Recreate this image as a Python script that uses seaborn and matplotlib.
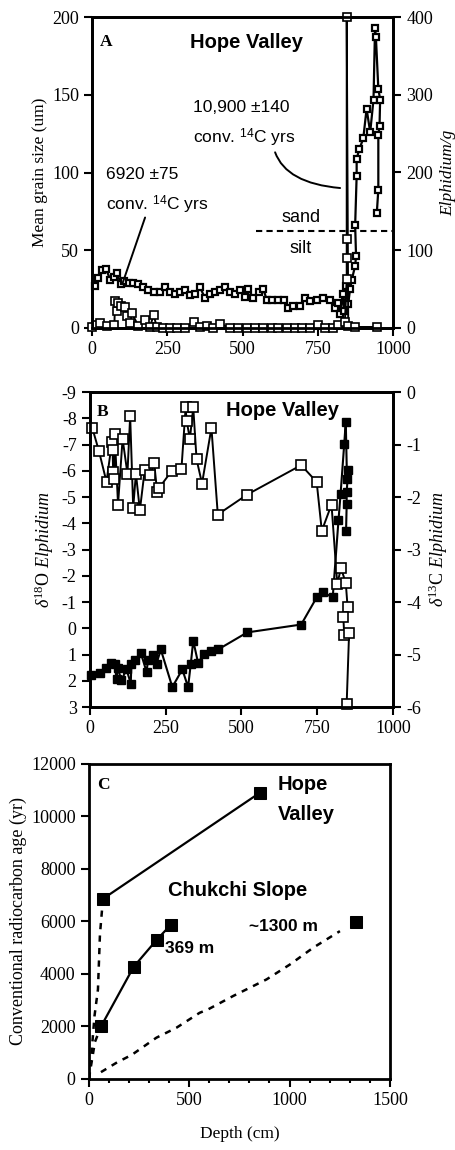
import matplotlib
matplotlib.use('Agg')
import matplotlib.pyplot as plt
import seaborn as sns

# ---------------- data ----------------
# panel A: mean grain size (um) and Elphidium/g versus depth (cm)
grain_depth = [10, 18, 32, 46, 60, 73, 84, 95, 106, 121, 137, 154, 170, 187, 204, 226, 243, 259, 276, 292,
               309, 326, 342, 359, 375, 392, 409, 425, 442, 459, 475, 492, 508, 519, 536, 553, 569, 580, 597, 619,
               636, 652, 669, 691, 708, 724, 746, 768, 791, 807, 818, 825, 832, 838, 845, 851, 857, 863, 874, 877,
               874, 879, 879, 888, 901, 912, 924, 935, 940, 943, 951, 957, 955, 951, 951, 946]
grain_um = [27, 32, 37, 38, 31, 33, 35, 28, 30, 29, 29, 28, 26, 24, 23, 23, 26, 23, 22, 23,
            24, 21, 22, 26, 19, 22, 23, 24, 26, 23, 22, 24, 20, 25, 19, 23, 25, 18, 18, 18,
            18, 13, 14, 14, 19, 17, 18, 19, 18, 13, 16, 9, 22, 11, 27, 15, 25, 31, 40, 46,
            66, 98, 109, 115, 122, 141, 126, 147, 193, 187, 154, 147, 130, 124, 89, 74]
elph_depth = [0, 15, 27, 49, 74, 76, 82, 87, 96, 110, 115, 126, 132, 154, 176, 193, 204, 215, 237, 259,
              281, 309, 337, 359, 381, 403, 425, 458, 486, 514, 542, 569, 597, 619, 647, 674, 697, 724, 752, 774,
              802, 818, 840, 846, 846, 846, 846, 851, 874, 946]
elph_per_g = [1, 4, 6, 2, 3, 34, 21, 32, 28, 27, 15, 6, 19, 2, 10, 1, 17, 1, 0, 0,
              0, 0, 8, 1, 2, 0, 5, 0, 0, 0, 0, 0, 0, 0, 0, 0, 0, 0, 4, 0,
              0, 4, 8, 63, 90, 114, 400, 2, 1, 1]
sand_silt_um = 62.5

# panel B: stable isotopes of Elphidium
d18o_depth = [3, 33, 52, 71, 82, 88, 92, 104, 121, 135, 137, 148, 168, 187, 192, 209, 220, 234, 272, 305,
              324, 333, 341, 357, 377, 401, 423, 519, 697, 748, 768, 801, 820, 827, 839, 844, 848, 852, 847, 847, 845]
d18o = [1.78, 1.69, 1.49, 1.31, 1.36, 1.91, 1.5, 1.97, 1.56, 2.1, 1.34, 1.21, 0.93, 1.65, 1.21, 1.02, 1.34, 0.8, 2.23, 1.56,
        2.23, 1.34, 0.47, 1.31, 0.96, 0.86, 0.8, 0.15, -0.15, -1.18, -1.39, -1.18, -4.12, -5.14, -7.04, -7.87, -5.7, -6.03,
        -5.2, -4.73, -3.72]
d13c_depth = [8, 30, 55, 73, 75, 77, 80, 82, 93, 108, 124, 133, 143, 152, 165, 181, 200, 212, 222, 229,
              270, 302, 316, 319, 330, 341, 352, 370, 401, 422, 519, 697, 748, 765, 797, 816, 828, 844, 850, 836,
              839, 855, 847]
d13c = [-0.68, -1.12, -1.71, -0.94, -1.1, -1.52, -1.65, -0.8, -2.14, -0.89, -1.55, -0.46, -2.2, -1.55, -2.25, -1.48,
        -1.58, -1.34, -1.9, -1.82, -1.5, -1.47, -0.29, -0.54, -0.89, -0.29, -1.28, -1.74, -0.68, -2.33, -1.95, -1.39,
        -1.71, -2.64, -2.14, -3.66, -3.35, -3.63, -4.09, -4.29, -4.63, -4.58, -5.93]

# panel C: radiocarbon ages
hope_depth = [70, 852]
hope_age = [6850, 10890]
hope_model_depth = [0, 10, 28, 45, 55, 70]
hope_model_age = [0, 700, 2400, 3400, 5500, 6850]
slope369_depth = [61, 223, 339, 407]
slope369_age = [2000, 4260, 5300, 5850]
slope369_model_depth = [0, 30, 61]
slope369_model_age = [0, 1400, 2000]
slope1300_depth = [1331]
slope1300_age = [5980]
slope1300_model_depth = [60, 140, 214, 336, 436, 552, 594, 719, 885, 1002, 1118, 1251]
slope1300_model_age = [250, 620, 910, 1560, 1940, 2510, 2640, 3150, 3780, 4350, 4990, 5620]

# ---------------- style ----------------
sns.set_style('ticks', {'axes.edgecolor': 'black', 'xtick.color': 'black', 'ytick.color': 'black',
                        'text.color': 'black', 'axes.labelcolor': 'black'})
plt.rcParams['font.family'] = ['Liberation Serif', 'DejaVu Serif']
plt.rcParams['mathtext.fontset'] = 'custom'
plt.rcParams['mathtext.rm'] = 'Liberation Serif'
plt.rcParams['mathtext.it'] = 'Liberation Serif:italic'
plt.rcParams['mathtext.sf'] = 'Liberation Sans'
plt.rcParams['axes.unicode_minus'] = False

SANS = 'Liberation Sans'
TICK = 13


def style(ax, right=False):
    for s in ax.spines.values():
        s.set_visible(True)
        s.set_linewidth(2)
    ax.tick_params(direction='out', length=6, width=1.5, labelsize=TICK,
                   right=False, left=not right, labelleft=not right, labelright=right)
    if right:
        ax.tick_params(axis='y', right=True, left=False)


fig = plt.figure(figsize=(4.56, 11.5), dpi=100)

# ---------------- panel A ----------------
axA = fig.add_axes([0.202, 0.715, 0.660, 0.270])
axA2 = axA.twinx()
sns.lineplot(x=grain_depth, y=grain_um, ax=axA, sort=False, estimator=None, color='black', linewidth=1.6,
             marker='s', markersize=4.5, markerfacecolor='white', markeredgecolor='black', markeredgewidth=1.6,
             clip_on=False)
sns.lineplot(x=elph_depth, y=elph_per_g, ax=axA2, sort=False, estimator=None, color='black', linewidth=1.4,
             marker='s', markersize=6, markerfacecolor='white', markeredgecolor='black', markeredgewidth=1.2,
             clip_on=False)
axA.hlines(sand_silt_um, 545, 1000, colors='black', linestyles=(0, (3, 2)), linewidth=1.5)
axA.set_xlim(0, 1000)
axA.set_ylim(0, 200)
axA2.set_ylim(0, 400)
axA.set_xticks([0, 250, 500, 750, 1000])
axA.set_yticks([0, 50, 100, 150, 200])
axA2.set_yticks([0, 100, 200, 300, 400])
style(axA)
style(axA2, right=True)
axA.set_ylabel('Mean grain size (um)', fontsize=12.5, labelpad=3)
axA2.set_ylabel('Elphidium/g', fontsize=12.5, fontstyle='italic', labelpad=5)

axA.text(0.027, 0.92, 'A', transform=axA.transAxes, fontsize=12.5, fontweight='bold', va='center')
axA.text(0.512, 0.92, 'Hope Valley', transform=axA.transAxes, family=SANS, fontsize=14.5,
         fontweight='bold', ha='center', va='center')
axA.text(0.336, 0.71, '10,900 \u00b1140', transform=axA.transAxes, family=SANS, fontsize=12.5, va='center')
axA.text(0.336, 0.613, r'conv. $^{\mathsf{14}}$C yrs', transform=axA.transAxes, family=SANS, fontsize=12.5,
         va='center')
axA.text(0.047, 0.494, '6920 \u00b175', transform=axA.transAxes, family=SANS, fontsize=12.5, va='center')
axA.text(0.047, 0.397, r'conv. $^{\mathsf{14}}$C yrs', transform=axA.transAxes, family=SANS, fontsize=12.5,
         va='center')
axA.annotate('', xy=(824, 90), xytext=(608, 113),
             arrowprops=dict(arrowstyle='-', color='black', linewidth=1.4,
                             connectionstyle='angle3,angleA=-70,angleB=-5', shrinkA=0, shrinkB=0))
axA.annotate('', xy=(100, 28), xytext=(176, 71),
             arrowprops=dict(arrowstyle='-', color='black', linewidth=1.4, shrinkA=0, shrinkB=0))
axA.text(694, 0.355, 'sand', transform=axA.get_xaxis_transform(), family=SANS, fontsize=13,
         ha='center', va='center')
axA.text(694, 0.255, 'silt', transform=axA.get_xaxis_transform(), family=SANS, fontsize=13,
         ha='center', va='center')

# ---------------- panel B ----------------
axB = fig.add_axes([0.197, 0.385, 0.665, 0.274])
axB2 = axB.twinx()
sns.lineplot(x=d18o_depth, y=d18o, ax=axB, sort=False, estimator=None, color='black', linewidth=1.5,
             marker='s', markersize=5.5, markerfacecolor='black', markeredgecolor='black', markeredgewidth=1,
             clip_on=False)
sns.lineplot(x=d13c_depth, y=d13c, ax=axB2, sort=False, estimator=None, color='black', linewidth=1.4,
             marker='s', markersize=6.5, markerfacecolor='white', markeredgecolor='black', markeredgewidth=1.2,
             clip_on=False)
axB.set_xlim(0, 1000)
axB.set_ylim(3, -9)
axB2.set_ylim(-6, 0)
axB.set_xticks([0, 250, 500, 750, 1000])
axB.set_yticks(list(range(-9, 4)))
axB2.set_yticks(list(range(-6, 1)))
style(axB)
style(axB2, right=True)
axB.set_ylabel(r'$\delta^{18}$O $\mathit{Elphidium}$', fontsize=13, labelpad=4)
axB2.set_ylabel(r'$\delta^{13}$C $\mathit{Elphidium}$', fontsize=13, labelpad=4)
axB.text(0.023, 0.937, 'B', transform=axB.transAxes, fontsize=12.5, fontweight='bold', va='center')
axB.text(0.634, 0.943, 'Hope Valley', transform=axB.transAxes, family=SANS, fontsize=14.5,
         fontweight='bold', ha='center', va='center')

# ---------------- panel C ----------------
axC = fig.add_axes([0.195, 0.062, 0.660, 0.274])
dash = (0, (2.5, 2.5))
sns.lineplot(x=hope_model_depth, y=hope_model_age, ax=axC, sort=False, estimator=None, color='black',
             linewidth=1.8, linestyle=dash)
sns.lineplot(x=slope369_model_depth, y=slope369_model_age, ax=axC, sort=False, estimator=None, color='black',
             linewidth=1.8, linestyle=dash)
sns.lineplot(x=slope1300_model_depth, y=slope1300_model_age, ax=axC, sort=False, estimator=None,
             color='black', linewidth=1.8, linestyle=dash)
for xs, ys in [(hope_depth, hope_age), (slope369_depth, slope369_age), (slope1300_depth, slope1300_age)]:
    sns.lineplot(x=xs, y=ys, ax=axC, sort=False, estimator=None, color='black', linewidth=1.6,
                 marker='s', markersize=8, markerfacecolor='black', markeredgecolor='black', clip_on=False)
axC.set_xlim(0, 1500)
axC.set_ylim(0, 12000)
axC.set_xticks([0, 500, 1000, 1500])
axC.set_xticks(list(range(0, 1501, 100)), minor=True)
axC.set_yticks(list(range(0, 12001, 2000)))
style(axC)
axC.tick_params(axis='x', which='minor', direction='out', length=3, width=1.5)
axC.set_xlabel('Depth (cm)', fontsize=12.5, labelpad=12)
axC.set_ylabel('Conventional radiocarbon age (yr)', fontsize=13, labelpad=3)
axC.text(0.027, 0.933, 'C', transform=axC.transAxes, fontsize=12.5, fontweight='bold', va='center')
axC.text(0.628, 0.933, 'Hope', transform=axC.transAxes, family=SANS, fontsize=14.5, fontweight='bold',
         va='center')
axC.text(0.628, 0.838, 'Valley', transform=axC.transAxes, family=SANS, fontsize=14.5, fontweight='bold',
         va='center')
axC.text(0.495, 0.597, 'Chukchi Slope', transform=axC.transAxes, family=SANS, fontsize=14.5,
         fontweight='bold', ha='center', va='center')
axC.text(0.252, 0.413, '369 m', transform=axC.transAxes, family=SANS, fontsize=12.5, fontweight='bold',
         va='center')
axC.text(0.532, 0.483, '~1300 m', transform=axC.transAxes, family=SANS, fontsize=12.5, fontweight='bold',
         va='center')

fig.savefig('out.png', dpi=100)
